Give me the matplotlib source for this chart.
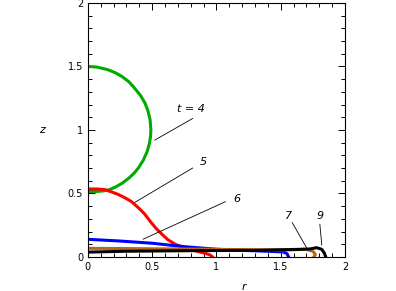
import matplotlib
matplotlib.use("Agg")
import matplotlib.pyplot as plt
from matplotlib.ticker import MultipleLocator

# interface profiles z(r) at successive times
r_t4 = [0.0, 0.069, 0.153, 0.214, 0.266, 0.318, 0.358, 0.41, 0.445, 0.467, 0.484, 0.49,
        0.4875, 0.479, 0.461, 0.43, 0.396, 0.36, 0.318, 0.266, 0.214, 0.167, 0.12, 0.06, 0.0]
z_t4 = [1.50, 1.495, 1.475, 1.45, 1.42, 1.38, 1.335, 1.27, 1.21, 1.15, 1.08, 1.0,
        0.95, 0.895, 0.83, 0.76, 0.705, 0.66, 0.62, 0.58, 0.55, 0.53, 0.52, 0.515, 0.515]

r_t5 = [0.0, 0.07, 0.13, 0.19, 0.24, 0.29, 0.34, 0.39, 0.44, 0.485, 0.53, 0.58, 0.625,
        0.68, 0.73, 0.80, 0.86, 0.91, 0.95, 0.97]
z_t5 = [0.535, 0.535, 0.53, 0.51, 0.49, 0.465, 0.435, 0.39, 0.34, 0.28, 0.225, 0.175, 0.134,
        0.10, 0.08, 0.058, 0.042, 0.03, 0.016, 0.0]

r_t6 = [0.0, 0.24, 0.50, 0.75, 1.01, 1.13, 1.39, 1.52, 1.55, 1.56]
z_t6 = [0.139, 0.126, 0.108, 0.081, 0.06, 0.055, 0.045, 0.04, 0.025, 0.003]

r_t7 = [0.0, 0.31, 0.8, 1.2, 1.52, 1.70, 1.75, 1.77, 1.76]
z_t7 = [0.068, 0.066, 0.062, 0.058, 0.055, 0.06, 0.045, 0.02, 0.003]

r_t9 = [0.0, 0.3, 0.87, 1.3, 1.65, 1.73, 1.78, 1.82, 1.84, 1.85]
z_t9 = [0.038, 0.045, 0.05, 0.052, 0.06, 0.063, 0.073, 0.06, 0.03, 0.002]

curves = [
    (r_t4, z_t4, "#00aa00"),
    (r_t5, z_t5, "#ff0000"),
    (r_t6, z_t6, "#0000ff"),
    (r_t7, z_t7, "#b8661a"),
    (r_t9, z_t9, "#000000"),
]

# label text, text position, line end on curve
labels = ["t = 4", "5", "6", "7", "9"]
label_pos = [(0.80, 1.165), (0.90, 0.75), (1.16, 0.457), (1.56, 0.323), (1.81, 0.323)]
line_start = [(0.815, 1.09), (0.815, 0.70), (1.07, 0.435), (1.59, 0.27), (1.805, 0.257)]
line_end = [(0.52, 0.92), (0.366, 0.43), (0.43, 0.14), (1.70, 0.076), (1.82, 0.094)]

fig = plt.figure(figsize=(3.96, 2.91), dpi=100)
ax = fig.add_axes([0.222, 0.117, 0.649, 0.873])

for r, z, c in curves:
    ax.plot(r, z, color=c, linewidth=2.2, solid_joinstyle="round")

for txt, (tx, ty), (x0, y0), (x1, y1) in zip(labels, label_pos, line_start, line_end):
    ax.text(tx, ty, txt, fontsize=8, style="italic", ha="center", va="center")
    ax.plot([x0, x1], [y0, y1], color="black", linewidth=0.6)

ax.set_xlim(0, 2)
ax.set_ylim(0, 2)
ax.xaxis.set_major_locator(MultipleLocator(0.5))
ax.yaxis.set_major_locator(MultipleLocator(0.5))
ax.xaxis.set_minor_locator(MultipleLocator(0.1))
ax.yaxis.set_minor_locator(MultipleLocator(0.1))
ax.xaxis.set_major_formatter(plt.FuncFormatter(lambda v, p: f"{v:g}"))
ax.yaxis.set_major_formatter(plt.FuncFormatter(lambda v, p: f"{v:g}"))
ax.tick_params(which="both", direction="in", top=True, right=True, labelsize=7)
ax.tick_params(which="major", length=5, width=0.7)
ax.tick_params(which="minor", length=3, width=0.7)
for s in ax.spines.values():
    s.set_linewidth(0.8)

fig.text(244 / 396, 1 - 287 / 291, "r", fontsize=8, style="italic", ha="center", va="center")
fig.text(42 / 396, 1 - 130 / 291, "z", fontsize=8, style="italic", ha="center", va="center")

fig.savefig("out.png", dpi=100)
